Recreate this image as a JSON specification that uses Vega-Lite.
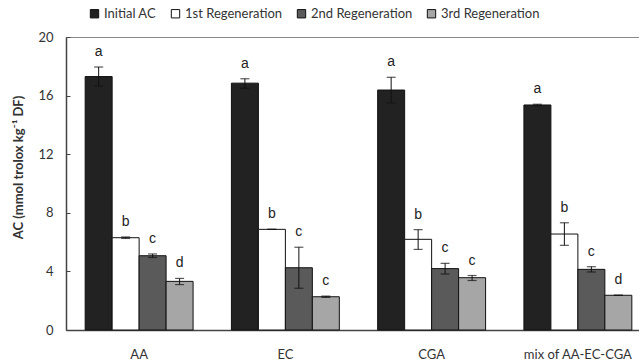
{
  "$schema": "https://vega.github.io/schema/vega-lite/v6.json",
  "width": 573,
  "height": 293,
  "autosize": {"type": "none"},
  "padding": {"left": 66, "top": 37, "right": 0, "bottom": 31},
  "background": "white",
  "config": {
    "view": {"stroke": "#8a8a8a", "strokeWidth": 1},
    "font": "Lato"
  },
  "data": {
    "values": [
      {"sample": "AA", "series": "Initial AC", "ac": 17.3, "lo": 16.65, "hi": 17.95, "letter": "a"},
      {"sample": "AA", "series": "1st Regeneration", "ac": 6.3, "lo": 6.25, "hi": 6.35, "letter": "b"},
      {"sample": "AA", "series": "2nd Regeneration", "ac": 5.07, "lo": 4.95, "hi": 5.19, "letter": "c"},
      {"sample": "AA", "series": "3rd Regeneration", "ac": 3.32, "lo": 3.1, "hi": 3.52, "letter": "d"},
      {"sample": "EC", "series": "Initial AC", "ac": 16.85, "lo": 16.5, "hi": 17.15, "letter": "a"},
      {"sample": "EC", "series": "1st Regeneration", "ac": 6.87, "lo": 6.87, "hi": 6.87, "letter": "b"},
      {"sample": "EC", "series": "2nd Regeneration", "ac": 4.25, "lo": 2.85, "hi": 5.65, "letter": "c"},
      {"sample": "EC", "series": "3rd Regeneration", "ac": 2.27, "lo": 2.23, "hi": 2.31, "letter": "c"},
      {"sample": "CGA", "series": "Initial AC", "ac": 16.38, "lo": 15.5, "hi": 17.25, "letter": "a"},
      {"sample": "CGA", "series": "1st Regeneration", "ac": 6.19, "lo": 5.5, "hi": 6.85, "letter": "b"},
      {"sample": "CGA", "series": "2nd Regeneration", "ac": 4.19, "lo": 3.82, "hi": 4.55, "letter": "c"},
      {"sample": "CGA", "series": "3rd Regeneration", "ac": 3.57, "lo": 3.38, "hi": 3.72, "letter": "c"},
      {"sample": "mix of AA-EC-CGA", "series": "Initial AC", "ac": 15.36, "lo": 15.31, "hi": 15.41, "letter": "a"},
      {"sample": "mix of AA-EC-CGA", "series": "1st Regeneration", "ac": 6.55, "lo": 5.78, "hi": 7.32, "letter": "b"},
      {"sample": "mix of AA-EC-CGA", "series": "2nd Regeneration", "ac": 4.14, "lo": 3.96, "hi": 4.32, "letter": "c"},
      {"sample": "mix of AA-EC-CGA", "series": "3rd Regeneration", "ac": 2.37, "lo": 2.37, "hi": 2.37, "letter": "d"}
    ]
  },
  "encoding": {
    "x": {
      "field": "sample",
      "type": "nominal",
      "sort": ["AA", "EC", "CGA", "mix of AA-EC-CGA"],
      "scale": {"range": [0, 585], "paddingInner": 0.262, "paddingOuter": 0.131},
      "axis": {
        "title": null,
        "labelAngle": 0,
        "ticks": false,
        "labelPadding": 18,
        "labelFont": "Lato",
        "labelFontSize": 13,
        "labelColor": "#333333",
        "domainColor": "#444444",
        "domainWidth": 1.5
      }
    },
    "xOffset": {
      "field": "series",
      "type": "nominal",
      "sort": ["Initial AC", "1st Regeneration", "2nd Regeneration", "3rd Regeneration"],
      "scale": {"paddingInner": 0, "paddingOuter": 0}
    }
  },
  "layer": [
    {
      "mark": {"type": "bar", "stroke": "#111111", "strokeWidth": 1},
      "encoding": {
        "y": {
          "field": "ac",
          "type": "quantitative",
          "scale": {"domain": [0, 20], "nice": false},
          "axis": {
            "values": [0, 4, 8, 12, 16, 20],
            "grid": false,
            "title": "AC (mmol trolox kg⁻¹ DF)",
            "titleFont": "Lato",
            "titleFontSize": 13,
            "titleFontWeight": "bold",
            "titleColor": "#333333",
            "titleX": -48,
            "titleY": 130,
            "titleAngle": -90,
            "titleAlign": "center",
            "titleBaseline": "middle",
            "tickSize": -4,
            "tickColor": "#444444",
            "labelPadding": 17,
            "labelFont": "Lato",
            "labelFontSize": 13,
            "labelColor": "#333333",
            "domainColor": "#444444",
            "domainWidth": 1.5
          }
        },
        "color": {
          "field": "series",
          "type": "nominal",
          "scale": {
            "domain": ["Initial AC", "1st Regeneration", "2nd Regeneration", "3rd Regeneration"],
            "range": ["#222222", "#ffffff", "#5a5a5a", "#a6a6a6"]
          },
          "legend": {
            "title": null,
            "orient": "none",
            "direction": "horizontal",
            "legendX": 22,
            "legendY": -30,
            "symbolType": "square",
            "symbolSize": 70,
            "symbolStrokeColor": "#111111",
            "symbolStrokeWidth": 1,
            "symbolOpacity": 1,
            "labelFont": "Lato",
            "labelFontSize": 13,
            "labelColor": "#333333",
            "labelOffset": 3,
            "columnPadding": 12
          }
        }
      }
    },
    {
      "mark": {"type": "rule", "color": "#111111", "strokeWidth": 1},
      "encoding": {
        "y": {"field": "lo", "type": "quantitative"},
        "y2": {"field": "hi"}
      }
    },
    {
      "mark": {"type": "tick", "color": "#111111", "size": 9, "thickness": 1.2},
      "encoding": {
        "y": {"field": "lo", "type": "quantitative"}
      }
    },
    {
      "mark": {"type": "tick", "color": "#111111", "size": 9, "thickness": 1.2},
      "encoding": {
        "y": {"field": "hi", "type": "quantitative"}
      }
    },
    {
      "mark": {"type": "text", "font": "Liberation Sans", "fontSize": 14, "fill": "#222222", "baseline": "alphabetic", "dy": -11},
      "encoding": {
        "y": {"field": "hi", "type": "quantitative"},
        "text": {"field": "letter"}
      }
    }
  ]
}
